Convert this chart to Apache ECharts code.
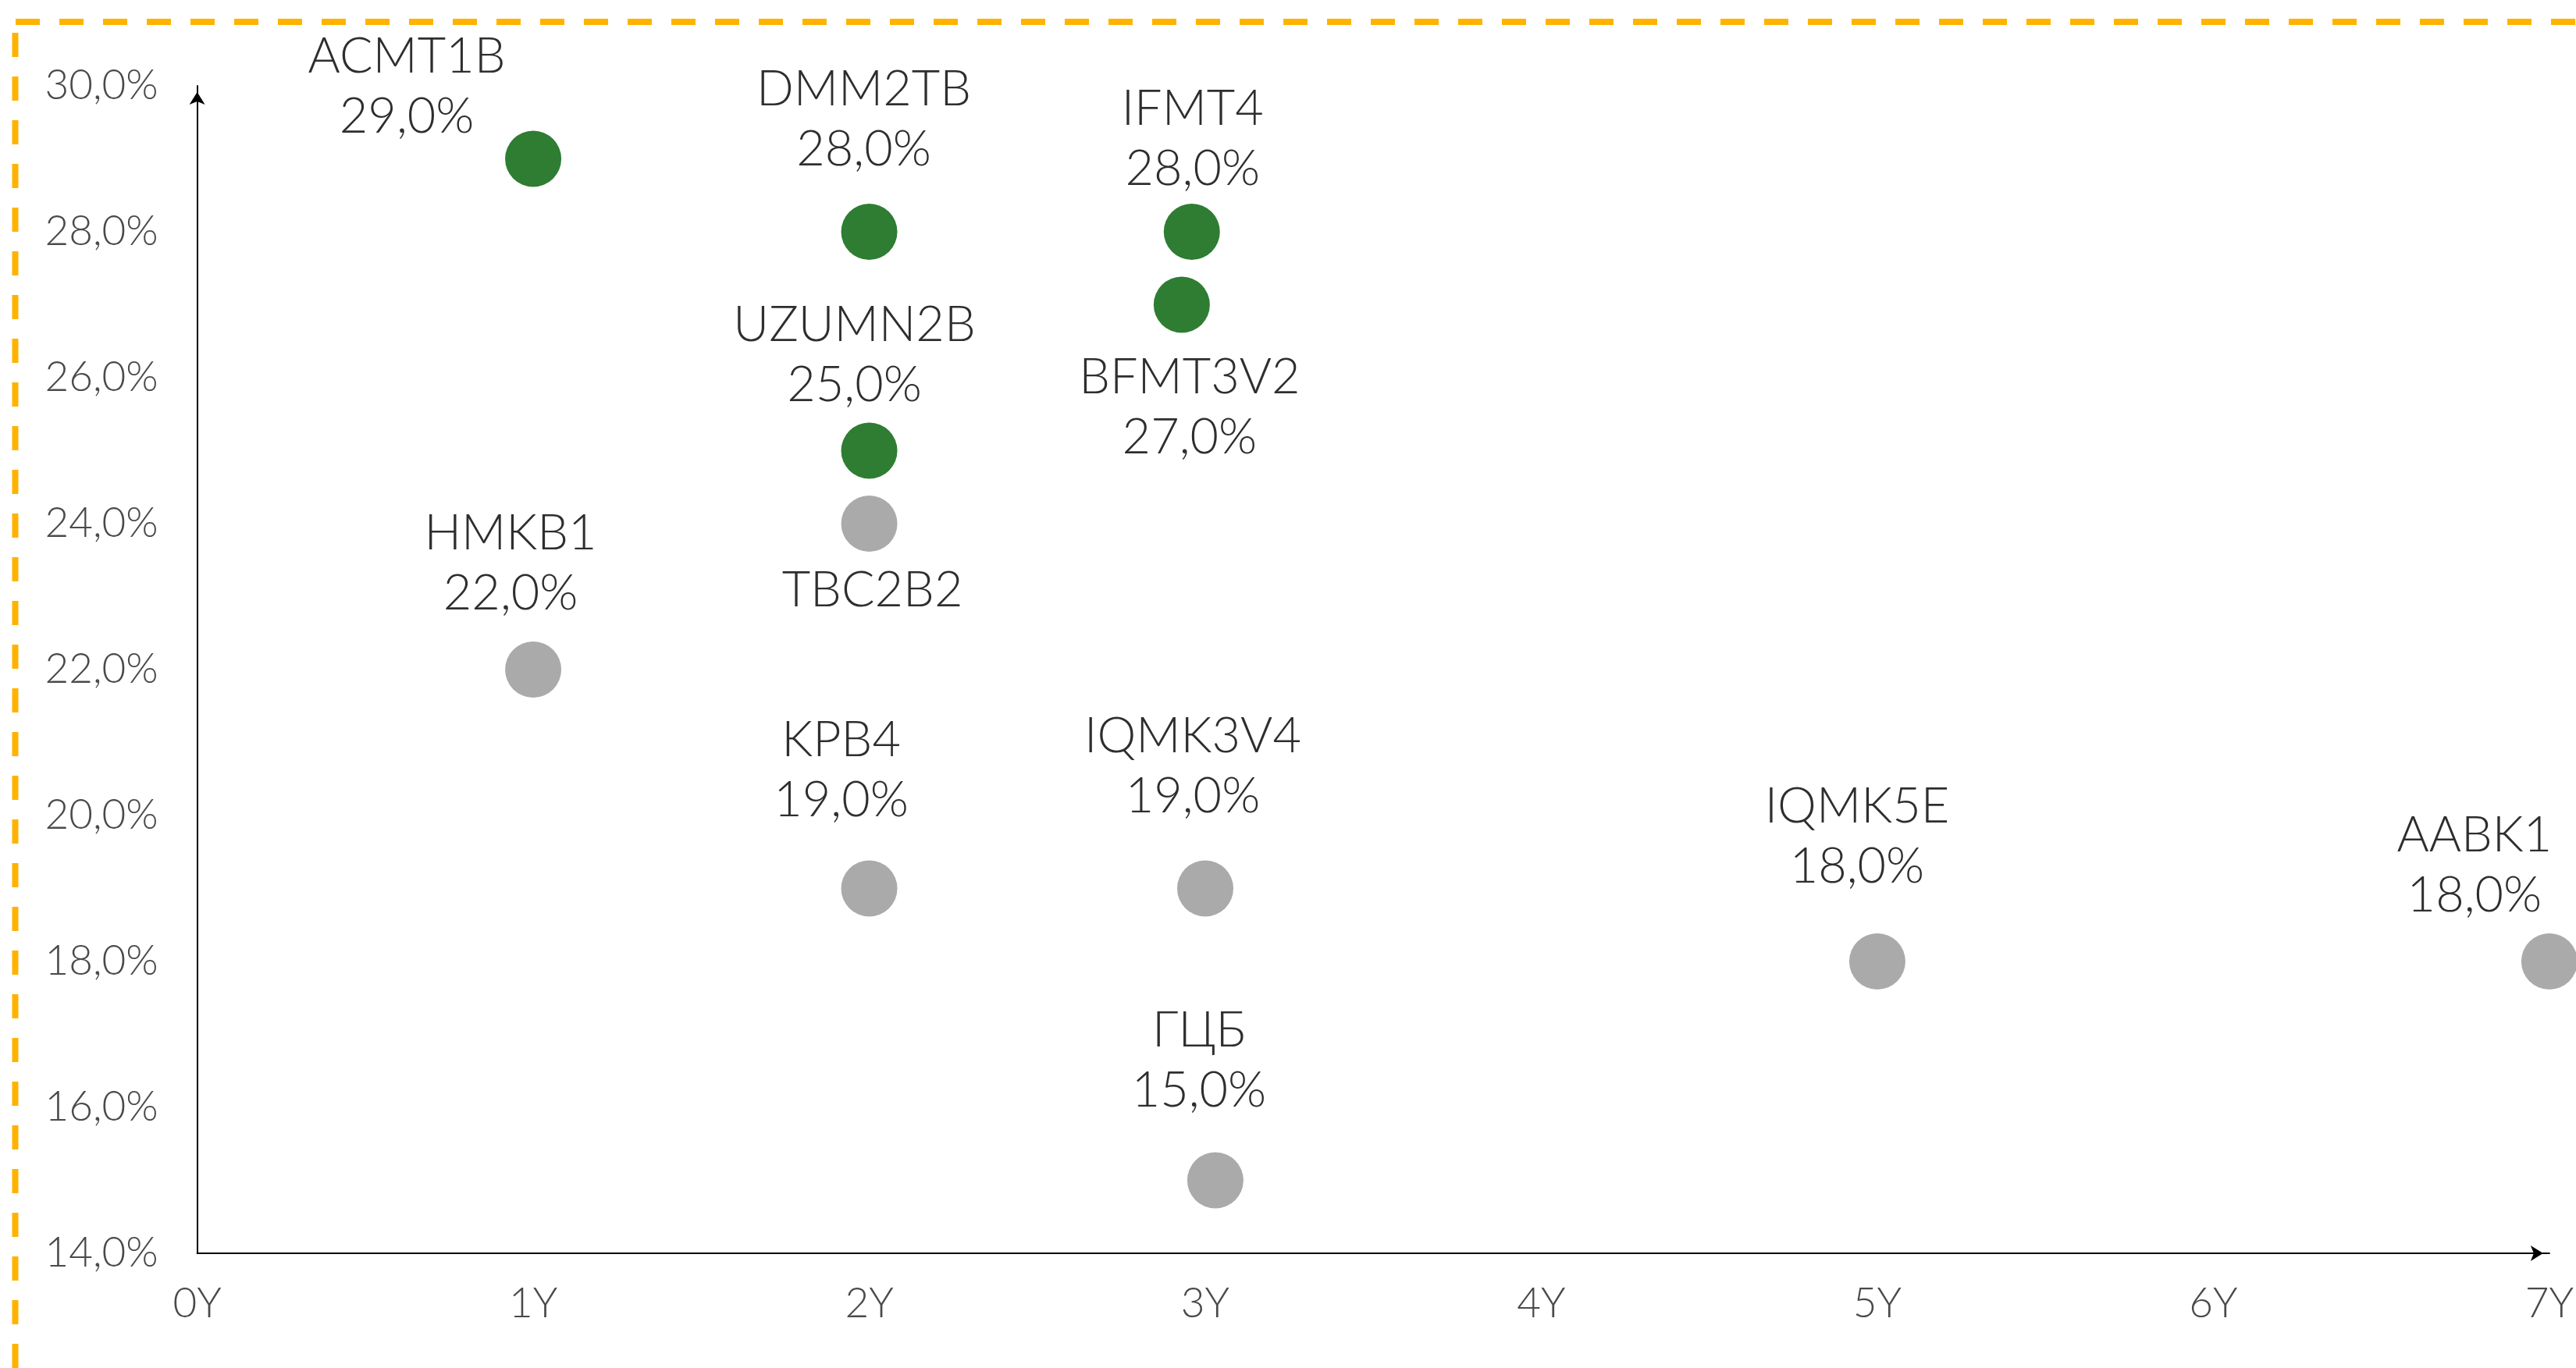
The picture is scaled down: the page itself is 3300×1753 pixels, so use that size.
<!DOCTYPE html>
<html>
<head>
<meta charset="utf-8">
<script src="https://cdn.jsdelivr.net/npm/echarts@6/dist/echarts.min.js"></script>
<style>
  html, body { margin: 0; padding: 0; background: #fff; }
  #chart { width: 3300px; height: 1753px; }
</style>
</head>
<body>
<div id="chart"></div>
<script>
// bonds: name, duration (years), yield (%)
var names = ['ACMT1B', 'DMM2TB', 'IFMT4', 'BFMT3V2', 'UZUMN2B', 'TBC2B2', 'HMKB1', 'KPB4', 'IQMK3V4', 'IQMK5E', 'AABK1', 'ГЦБ'];
var durations = [1, 2, 2.96, 2.93, 2, 2, 1, 2, 3, 5, 7, 3.03];
var yields = [29, 28, 28, 27, 25, 24, 22, 19, 19, 18, 18, 15];
var highlighted = ['ACMT1B', 'DMM2TB', 'IFMT4', 'BFMT3V2', 'UZUMN2B'];
var nameOnly = ['TBC2B2'];
var xTickLabels = ['0Y', '1Y', '2Y', '3Y', '4Y', '5Y', '6Y', '7Y'];

// label placement (px from point centre)
var labelOffsets = [[-162, -92], [-7, -144], [1, -119], [10, 132], [-19, -122], [4, 86],
    [-29, -136], [-36, -151], [-16, -156], [-26, -160], [-96, -123], [-21, -153]];

var GREEN = '#2E7D32';
var GREY = '#AAAAAA';
var FONT = 'Lato';

function pct(v) {
    return v.toFixed(1).replace('.', ',') + '%';
}

var points = [];
for (var i = 0; i < names.length; i++) {
    var green = highlighted.indexOf(names[i]) >= 0;
    points.push({
        name: names[i],
        value: [durations[i], yields[i]],
        itemStyle: { color: green ? GREEN : GREY, opacity: 1 },
        label: { offset: labelOffsets[i] }
    });
}

var chart = echarts.init(document.getElementById('chart'));
chart.setOption({
    animation: false,
    backgroundColor: '#fff',
    grid: { left: 252.6, right: 30.4, top: 110, bottom: 147, containLabel: false },
    xAxis: {
        type: 'value',
        min: 0, max: 7, interval: 1,
        splitLine: { show: false },
        axisTick: { show: false },
        axisLine: {
            show: true,
            lineStyle: { color: '#000', width: 2 },
            symbol: ['none', 'arrow'],
            symbolSize: [15, 16],
            symbolOffset: [0, -8]
        },
        axisLabel: {
            margin: 38,
            fontFamily: FONT, fontWeight: 300, fontSize: 53, color: '#4a4a4a',
            formatter: function (v) { return xTickLabels[v]; }
        }
    },
    yAxis: {
        type: 'value',
        min: 14, max: 30, interval: 2,
        splitLine: { show: false },
        axisTick: { show: false },
        axisLine: {
            show: true,
            lineStyle: { color: '#000', width: 2 },
            symbol: ['none', 'arrow'],
            symbolSize: [15, 16],
            symbolOffset: [0, -8]
        },
        axisLabel: {
            margin: 50,
            fontFamily: FONT, fontWeight: 300, fontSize: 53, color: '#4a4a4a',
            formatter: function (v) { return pct(v); }
        }
    },
    series: [{
        type: 'scatter',
        symbol: 'circle',
        symbolSize: 72,
        data: points,
        label: {
            show: true,
            position: 'inside',
            align: 'center',
            verticalAlign: 'middle',
            fontFamily: FONT, fontWeight: 300, fontSize: 63,
            lineHeight: 77,
            color: '#2e2e2e',
            formatter: function (p) {
                if (nameOnly.indexOf(p.name) >= 0) return p.name;
                return p.name + '\n' + pct(p.value[1]);
            }
        },
        emphasis: { disabled: true }
    }],
    graphic: [
        {
            type: 'line',
            shape: { x1: 20, y1: 28, x2: 3400, y2: 28 },
            style: { stroke: '#FFB300', lineWidth: 8, lineDash: [31, 25], lineCap: 'butt' },
            silent: true
        },
        {
            type: 'line',
            shape: { x1: 19.5, y1: 42, x2: 19.5, y2: 1800 },
            style: { stroke: '#FFB300', lineWidth: 8, lineDash: [31, 25], lineCap: 'butt' },
            silent: true
        }
    ]
});
</script>
</body>
</html>
